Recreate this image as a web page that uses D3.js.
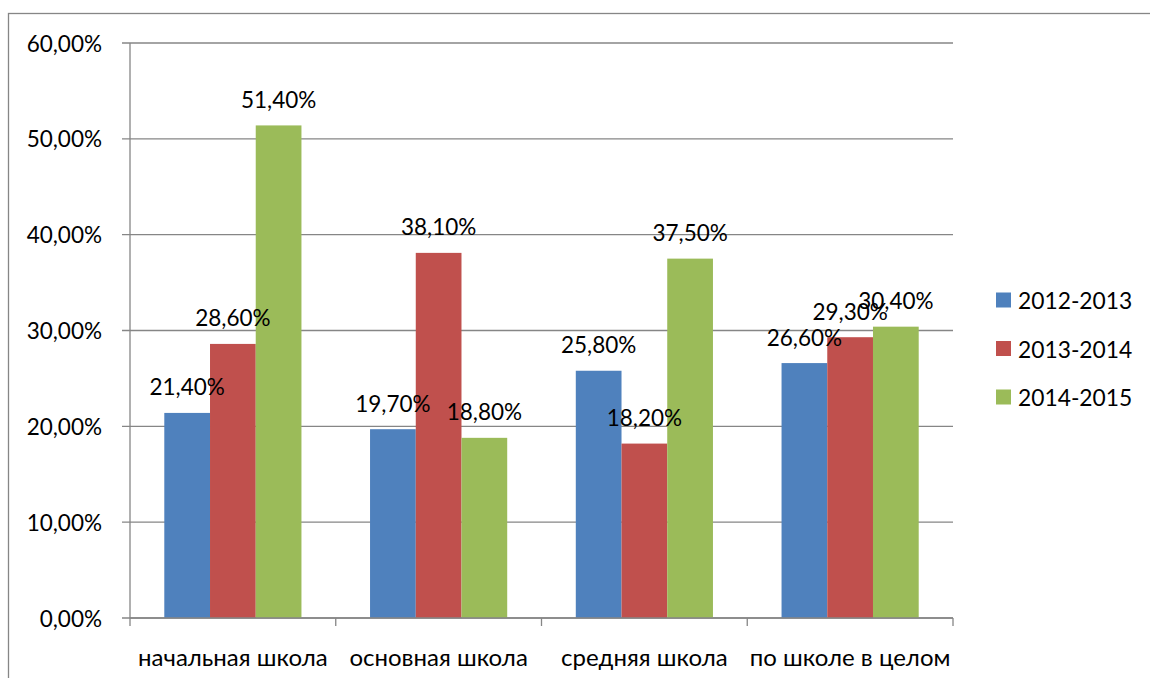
<!DOCTYPE html>
<html><head><meta charset="utf-8">
<script src="https://cdn.jsdelivr.net/npm/d3@7"></script>
<style>body{margin:0;background:#fff}svg{display:block}text{font-family:Lato,"Open Sans",sans-serif;fill:#000}</style>
</head><body>
<svg id="c" width="1150" height="678"></svg>
<script>
const categories = ["начальная школа","основная школа","средняя школа","по школе в целом"];
const seriesNames = ["2012-2013","2013-2014","2014-2015"];
const s2012 = [21.4,19.7,25.8,26.6];
const s2013 = [28.6,38.1,18.2,29.3];
const s2014 = [51.4,18.8,37.5,30.4];
const yTicks = [0,10,20,30,40,50,60];
const colors = ["#4f81bd","#c0504d","#9bbb59"];
const series = [s2012,s2013,s2014];

const svg = d3.select("#c");
const fmt = v => v.toFixed(2).replace(".",",")+"%";
const fmt1 = v => v.toFixed(1).replace(".",",")+"0%";
// outer frame
svg.append("rect").attr("x",8.5).attr("y",13.5).attr("width",1160).attr("height",700)
  .attr("fill","none").attr("stroke","#868686").attr("stroke-width",1.3);

const L=130,R=953,T=43,B=618;
const x = d3.scaleBand().domain(categories).range([L,R]).paddingInner(0).paddingOuter(0);
const y = d3.scaleLinear().domain([0,60]).range([B,T]);
const bw = x.bandwidth()/4.5;

// gridlines
svg.append("g").selectAll("line").data(yTicks).join("line")
  .attr("x1",L-8).attr("x2",R).attr("y1",d=>y(d)).attr("y2",d=>y(d))
  .attr("stroke","#868686").attr("stroke-width",1.3);
// y labels
svg.append("g").selectAll("text").data(yTicks).join("text")
  .attr("x",102).attr("y",d=>y(d)).attr("text-anchor","end").attr("dominant-baseline","central")
  .attr("font-size",22.5).text(d=>fmt(d));

// bars
const g = svg.append("g");
series.forEach((s,i)=>{
  g.selectAll(null).data(categories).join("rect")
    .attr("x",(c)=>x(c)+bw*0.75+i*bw).attr("width",bw)
    .attr("y",(c,j)=>y(s[j])).attr("height",(c,j)=>B-y(s[j]))
    .attr("fill",colors[i]);
});
// axes lines
svg.append("line").attr("x1",L).attr("x2",L).attr("y1",T).attr("y2",B).attr("stroke","#868686").attr("stroke-width",1.3);
svg.append("line").attr("x1",L).attr("x2",R).attr("y1",B).attr("y2",B).attr("stroke","#868686").attr("stroke-width",1.3);
const xt = categories.map(c=>x(c)).concat([R]);
svg.append("g").selectAll("line").data(xt).join("line")
  .attr("x1",d=>d).attr("x2",d=>d).attr("y1",B).attr("y2",B+8).attr("stroke","#868686").attr("stroke-width",1.3);
// category labels
svg.append("g").selectAll("text").data(categories).join("text")
  .attr("x",c=>x(c)+x.bandwidth()/2).attr("y",656).attr("text-anchor","middle").attr("dominant-baseline","central")
  .attr("font-size",24).text(c=>c);
// data labels
series.forEach((s,i)=>{
  svg.append("g").selectAll("text").data(categories).join("text")
    .attr("x",c=>x(c)+bw*0.75+i*bw+bw/2).attr("y",(c,j)=>y(s[j])-26)
    .attr("text-anchor","middle").attr("dominant-baseline","central")
    .attr("font-size",22.5).text((c,j)=>fmt1(s[j]));
});
// legend
const lg = svg.append("g");
seriesNames.forEach((n,i)=>{
  const cy = 300+i*48.5;
  lg.append("rect").attr("x",996).attr("y",cy-7.5).attr("width",15).attr("height",15).attr("fill",colors[i]);
  lg.append("text").attr("x",1018).attr("y",cy).attr("dominant-baseline","central").attr("font-size",22.8).text(n);
});
</script>
</body></html>
